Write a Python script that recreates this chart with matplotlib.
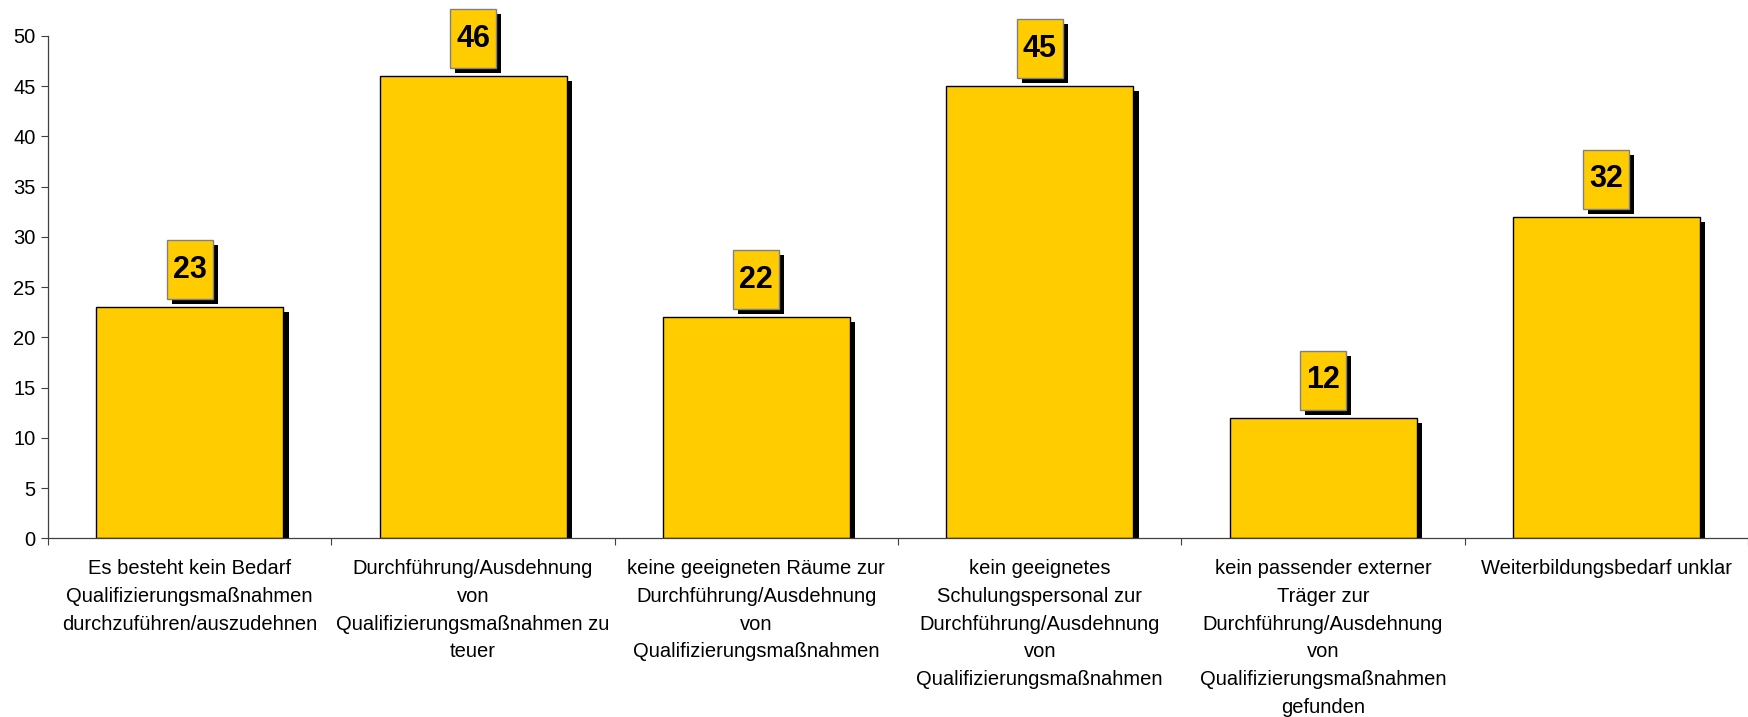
import matplotlib.pyplot as plt
import matplotlib.patheffects as pe
from matplotlib.patches import Rectangle
from matplotlib.transforms import ScaledTranslation

plt.rcParams['font.family'] = ['Liberation Sans', 'DejaVu Sans']

categories = [
    'Es besteht kein Bedarf\nQualifizierungsmaßnahmen\ndurchzuführen/auszudehnen',
    'Durchführung/Ausdehnung\nvon\nQualifizierungsmaßnahmen zu\nteuer',
    'keine geeigneten Räume zur\nDurchführung/Ausdehnung\nvon\nQualifizierungsmaßnahmen',
    'kein geeignetes\nSchulungspersonal zur\nDurchführung/Ausdehnung\nvon\nQualifizierungsmaßnahmen',
    'kein passender externer\nTräger zur\nDurchführung/Ausdehnung\nvon\nQualifizierungsmaßnahmen\ngefunden',
    'Weiterbildungsbedarf unklar',
]
values = [23, 46, 22, 45, 12, 32]
yticks = list(range(0, 51, 5))

bar_color = '#FFCC00'

fig = plt.figure(figsize=(17.48, 7.17), dpi=100)
ax = fig.add_axes([0.0275, 0.249, 0.9725, 0.701])

x = list(range(len(values)))
bars = ax.bar(x, values, width=0.66, color=bar_color, edgecolor='black', linewidth=1.0)
for b in bars:
    b.set_path_effects([
        pe.SimplePatchShadow(offset=(4, -3.5), shadow_rgbFace='black', alpha=1.0),
        pe.Normal(),
    ])

ax.set_xlim(-0.5, len(values) - 0.5)
ax.set_ylim(0, 50)
ax.set_yticks(yticks)

# category boundaries as major ticks, labels on minor ticks at the centres
ax.set_xticks([i - 0.5 for i in range(len(values) + 1)])
ax.set_xticklabels([])
ax.set_xticks(x, minor=True)
ax.set_xticklabels(categories, minor=True, fontsize=14.5, linespacing=1.58)
ax.tick_params(axis='x', which='minor', length=0, pad=15)
ax.tick_params(axis='x', which='major', length=5, direction='out', color='#404040')
ax.tick_params(axis='y', length=5, direction='out', color='#404040', labelsize=14.5, pad=4)

for s in ['top', 'right']:
    ax.spines[s].set_visible(False)
for s in ['left', 'bottom']:
    ax.spines[s].set_color('#404040')
    ax.spines[s].set_linewidth(0.9)

# value boxes with shadow, sized in pixels above each bar
box_w, box_h, gap = 46, 59, 8
for i, v in enumerate(values):
    tr = ScaledTranslation(i, v, ax.transData)
    ax.add_patch(Rectangle((-box_w / 2 + 5, gap - 5), box_w, box_h, transform=tr,
                           facecolor='black', edgecolor='none', clip_on=False, zorder=4))
    ax.add_patch(Rectangle((-box_w / 2, gap), box_w, box_h, transform=tr,
                           facecolor=bar_color, edgecolor='#808080', linewidth=1.0,
                           clip_on=False, zorder=5))
    ax.annotate(str(v), xy=(i, v), xytext=(0, gap + box_h / 2), textcoords='offset pixels',
                ha='center', va='center', fontsize=22, fontweight='bold', zorder=6)

plt.savefig('out.png', dpi=100)
plt.close(fig)
